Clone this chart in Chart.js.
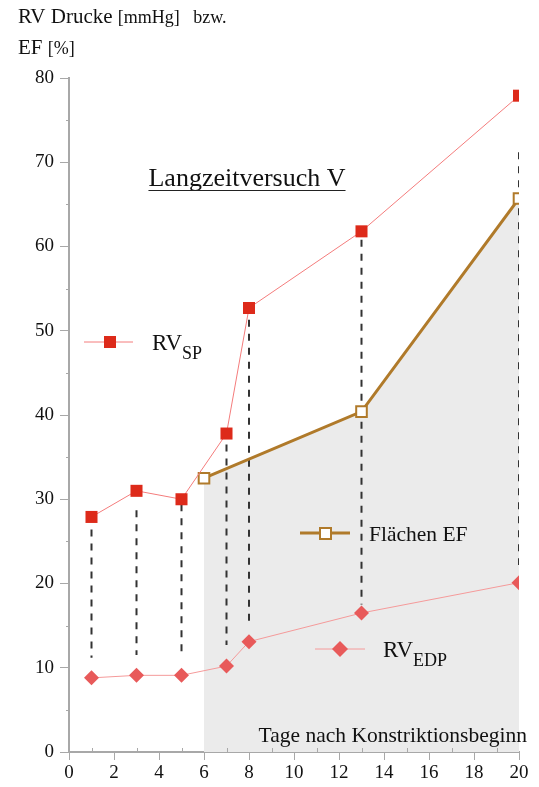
<!DOCTYPE html>
<html>
<head>
<meta charset="utf-8">
<script src="https://cdn.jsdelivr.net/npm/chart.js@4/dist/chart.umd.min.js"></script>
<style>
  html, body { margin: 0; padding: 0; background: #fff; }
  #wrap { width: 539px; height: 787px; position: relative; }
</style>
</head>
<body>
<div id="wrap"><canvas id="c" width="539" height="787"></canvas></div>
<script>
// days after constriction start
const days = [1, 3, 5, 7, 8, 13, 20];
const rvSP = [27.9, 31.0, 30.0, 37.8, 52.7, 61.8, 77.9];
const rvEDP = [8.8, 9.1, 9.1, 10.2, 13.1, 16.5, 20.1];
const efDays = [6, 13, 20];
const efValues = [32.5, 40.4, 65.7];
// dashed connectors (top / bottom end of each)
const dropTop = [26.4, 28.7, 29.4, 36.5, 51.3, 60.8, 71.2];
const dropBottom = [11.2, 11.5, 11.8, 12.7, 15.2, 17.5, 22.2];

const xTicks = [0, 2, 4, 6, 8, 10, 12, 14, 16, 18, 20];
const yTicks = [0, 10, 20, 30, 40, 50, 60, 70, 80];

const SERIF = "'Liberation Serif', 'DejaVu Serif', serif";
const AXIS = "#a8a8a8";

// build connector dataset, null breaks the line between days
const dropData = [];
days.forEach((d, i) => {
  dropData.push({ x: d, y: dropTop[i] });
  dropData.push({ x: d, y: dropBottom[i] });
  dropData.push({ x: d, y: null });
});

function pt(xs, ys) {
  return xs.map((x, i) => ({ x: x, y: ys[i] }));
}

const decorPlugin = {
  id: "decor",
  afterDraw(chart) {
    const ctx = chart.ctx;
    const xs = chart.scales.x;
    const ys = chart.scales.y;
    ctx.save();

    // minor ticks
    ctx.strokeStyle = AXIS;
    ctx.lineWidth = 1;
    for (let v = 5; v < 80; v += 10) {
      const py = Math.round(ys.getPixelForValue(v)) + 0.5;
      ctx.beginPath();
      ctx.moveTo(xs.left - 3, py);
      ctx.lineTo(xs.left, py);
      ctx.stroke();
    }
    for (let v = 1; v < 20; v += 2) {
      const px = Math.round(xs.getPixelForValue(v)) + 0.5;
      ctx.beginPath();
      ctx.moveTo(px, ys.bottom - 4);
      ctx.lineTo(px, ys.bottom);
      ctx.stroke();
    }

    ctx.fillStyle = "#111";
    ctx.textBaseline = "alphabetic";
    ctx.textAlign = "left";

    // y axis title
    ctx.font = "21px " + SERIF;
    ctx.fillText("RV Drucke", 18, 23);
    let w = ctx.measureText("RV Drucke ").width;
    ctx.font = "18px " + SERIF;
    ctx.fillText("[mmHg]", 18 + w, 23);
    w += ctx.measureText("[mmHg]   ").width;
    ctx.fillText("bzw.", 18 + w, 23);
    ctx.font = "21px " + SERIF;
    ctx.fillText("EF", 18, 54);
    const we = ctx.measureText("EF ").width;
    ctx.font = "18px " + SERIF;
    ctx.fillText("[%]", 18 + we, 54);

    // title with underline
    ctx.font = "26px " + SERIF;
    ctx.textAlign = "center";
    const title = "Langzeitversuch V";
    ctx.fillText(title, 247, 186);
    const tw = ctx.measureText(title).width;
    ctx.strokeStyle = "#222";
    ctx.lineWidth = 1;
    ctx.beginPath();
    ctx.moveTo(247 - tw / 2, 190.5);
    ctx.lineTo(247 + tw / 2, 190.5);
    ctx.stroke();

    // x axis title inside plot
    ctx.font = "21.5px " + SERIF;
    ctx.textAlign = "right";
    ctx.fillText("Tage nach Konstriktionsbeginn", 527, 742);

    // inline legends
    function legendLine(x1, x2, y, color, width) {
      ctx.strokeStyle = color;
      ctx.lineWidth = width;
      ctx.beginPath();
      ctx.moveTo(x1, y);
      ctx.lineTo(x2, y);
      ctx.stroke();
    }
    legendLine(84, 133, 342, "#f47c7c", 1);
    ctx.fillStyle = "#dd2a1a";
    ctx.fillRect(104, 336, 12, 12);

    legendLine(300, 350, 533, "#b07a2a", 3);
    ctx.fillStyle = "#fff";
    ctx.fillRect(320, 528, 11, 11);
    ctx.strokeStyle = "#b07a2a";
    ctx.lineWidth = 2;
    ctx.strokeRect(320, 528, 11, 11);

    legendLine(315, 365, 649, "#f59a9a", 1);
    ctx.fillStyle = "#e85a5a";
    ctx.beginPath();
    ctx.moveTo(340, 641);
    ctx.lineTo(348, 649);
    ctx.lineTo(340, 657);
    ctx.lineTo(332, 649);
    ctx.closePath();
    ctx.fill();

    ctx.fillStyle = "#111";
    ctx.textAlign = "left";
    ctx.font = "23px " + SERIF;
    ctx.fillText("RV", 152, 350);
    let rw = ctx.measureText("RV").width;
    ctx.font = "18px " + SERIF;
    ctx.fillText("SP", 152 + rw, 359);

    ctx.font = "21.5px " + SERIF;
    ctx.fillText("Flächen EF", 369, 541);

    ctx.font = "23px " + SERIF;
    ctx.fillText("RV", 383, 657);
    rw = ctx.measureText("RV").width;
    ctx.font = "18px " + SERIF;
    ctx.fillText("EDP", 383 + rw, 666);

    ctx.restore();
  }
};

new Chart(document.getElementById("c"), {
  type: "line",
  data: {
    datasets: [
      {
        label: "RV SP",
        data: pt(days, rvSP),
        borderColor: "#f47c7c",
        borderWidth: 1,
        pointStyle: "rect",
        pointRadius: 8.5,
        pointBackgroundColor: "#dd2a1a",
        pointBorderColor: "#dd2a1a",
        pointBorderWidth: 0,
        order: 1
      },
      {
        label: "Flächen EF",
        data: pt(efDays, efValues),
        borderColor: "#b07a2a",
        borderWidth: 3,
        backgroundColor: "#ebebeb",
        fill: "origin",
        pointStyle: "rect",
        pointRadius: 7.5,
        pointBackgroundColor: "#fff",
        pointBorderColor: "#b07a2a",
        pointBorderWidth: 2,
        order: 2
      },
      {
        label: "RV EDP",
        data: pt(days, rvEDP),
        borderColor: "#f59a9a",
        borderWidth: 1,
        pointStyle: "rectRot",
        pointRadius: 7.5,
        pointBackgroundColor: "#e85a5a",
        pointBorderColor: "#e85a5a",
        pointBorderWidth: 0,
        order: 3
      },
      {
        label: "drop",
        data: dropData,
        borderColor: "#333",
        borderWidth: 2,
        borderDash: [7, 7],
        pointRadius: 0,
        spanGaps: false,
        fill: false,
        order: 4
      }
    ]
  },
  options: {
    responsive: false,
    animation: false,
    events: [],
    layout: { padding: { top: 78, right: 20, left: 0, bottom: 0 } },
    plugins: {
      legend: { display: false },
      tooltip: { enabled: false },
      filler: { drawTime: "beforeDatasetsDraw" }
    },
    scales: {
      x: {
        type: "linear",
        min: 0,
        max: 20,
        afterBuildTicks(scale) {
          scale.ticks = xTicks.map(v => ({ value: v }));
        },
        afterFit(scale) { scale.height = 35; },
        grid: { drawOnChartArea: false, color: AXIS, tickLength: 8 },
        border: { color: AXIS, width: 2 },
        ticks: {
          font: { family: SERIF, size: 19 },
          color: "#111",
          padding: 2,
          maxRotation: 0
        }
      },
      y: {
        min: 0,
        max: 80,
        afterBuildTicks(scale) {
          scale.ticks = yTicks.map(v => ({ value: v }));
        },
        afterFit(scale) { scale.width = 69; },
        grid: { drawOnChartArea: false, color: AXIS, tickLength: 9 },
        border: { color: AXIS, width: 2 },
        ticks: {
          font: { family: SERIF, size: 19 },
          color: "#111",
          padding: 6
        }
      }
    }
  },
  plugins: [decorPlugin]
});
</script>
</body>
</html>
